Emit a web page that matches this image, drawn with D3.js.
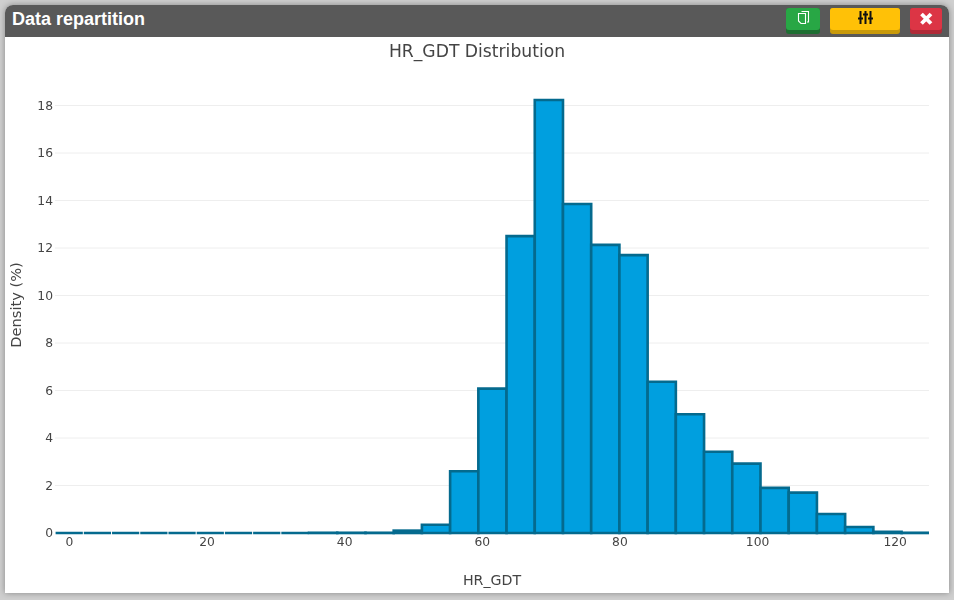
<!DOCTYPE html>
<html>
<head>
<meta charset="utf-8">
<script src="https://cdn.jsdelivr.net/npm/d3@7"></script>
<style>
html, body { margin: 0; padding: 0; width: 954px; height: 600px; overflow: hidden; background: #cfcfcf; }
#panel { position: absolute; left: 5px; top: 5px; width: 944px; height: 588px; background: #fff;
  border-radius: 8px 8px 0 0; box-shadow: 0 0 6px rgba(0,0,0,.35); overflow: hidden; }
#head { height: 32px; background: #595959; color: #fff; font: bold 18px "Liberation Sans", Arial, sans-serif;
  line-height: 29px; padding-left: 7px; opacity: 0.999; }
</style>
</head>
<body>
<div id="panel">
  <div id="head">Data repartition</div>
</div>
<svg id="chart" width="954" height="600" style="position:absolute;left:0;top:0"></svg>
<script>
var chartTitle = "HR_GDT Distribution";
var xTitle = "HR_GDT";
var yTitle = "Density (%)";

// bin edges start at -2, each bin is 4.1 wide
var binStart = -2;
var binSize = 4.1;
var density = [0, 0, 0, 0, 0, 0, 0, 0, 0, 0.01, 0.01, 0.01,
  0.1, 0.35, 2.6, 6.08, 12.5, 18.23, 13.85, 12.13, 11.7, 6.37, 5.0, 3.42, 2.92, 1.9, 1.7, 0.8, 0.25, 0.05, 0.01];

var xTicks = [0, 20, 40, 60, 80, 100, 120];
var yTicks = [0, 2, 4, 6, 8, 10, 12, 14, 16, 18];

var svg = d3.select("#chart");
var fontName = '"DejaVu Sans", Verdana, sans-serif';
var textColor = "#444";

var x = d3.scaleLinear().domain([-2, 125]).range([55.1, 929.1]);
var y = d3.scaleLinear().domain([0, 18]).range([533, 105.5]);

// header buttons
var buttons = [
  { x: 786, w: 34, c: "#28a745", b: "#1e6f32" },
  { x: 830, w: 70, c: "#ffc107", b: "#c99a0a" },
  { x: 910, w: 32, c: "#dc3545", b: "#b02a37" }
];
var btn = svg.selectAll("g.btn").data(buttons).enter().append("g").attr("class", "btn");
btn.append("rect")
  .attr("x", function (d) { return d.x; }).attr("y", 8)
  .attr("width", function (d) { return d.w; }).attr("height", 26).attr("rx", 3)
  .attr("fill", function (d) { return d.b; });
btn.append("rect")
  .attr("x", function (d) { return d.x; }).attr("y", 8)
  .attr("width", function (d) { return d.w; }).attr("height", 22).attr("rx", 3)
  .attr("fill", function (d) { return d.c; });

// copy icon
svg.append("path").attr("d", "M801.5 11.5h7v10.5h-1.5M798.5 13.5h7v10h-4.5l-2.5-2.5z")
  .attr("fill", "none").attr("stroke", "#fff").attr("stroke-width", 1.1);
// sliders icon
svg.append("path").attr("d", "M860.5 11v13M865.5 11v13M870.5 11v13M858 18.5h5M863 14.5h5M868 18.5h5")
  .attr("fill", "none").attr("stroke", "#111").attr("stroke-width", 2);
// close icon
svg.append("path").attr("d", "M921.5 14l9.5 9.5M931 14l-9.5 9.5")
  .attr("fill", "none").attr("stroke", "#fff").attr("stroke-width", 3.8);

// grid
svg.append("g").selectAll("line").data(yTicks.slice(1)).enter().append("line")
  .attr("x1", 55).attr("x2", 929)
  .attr("y1", function (d) { return y(d); }).attr("y2", function (d) { return y(d); })
  .attr("stroke", "#eee").attr("stroke-width", 1);

svg.append("clipPath").attr("id", "plot").append("rect")
  .attr("x", 55).attr("y", 60).attr("width", 874).attr("height", 480);

// bars, zero bins keep a small gap between them
svg.append("g").attr("clip-path", "url(#plot)").selectAll("path").data(density).enter().append("path")
  .attr("d", function (d, i) {
    var inset = d === 0 ? 0.5 : 0;
    var x0 = x(binStart + i * binSize) + inset, x1 = x(binStart + (i + 1) * binSize) - inset;
    return "M" + x0 + "," + y(0) + "V" + y(d) + "H" + x1 + "V" + y(0) + "Z";
  })
  .attr("fill", "#009fdf")
  .attr("stroke", "#046a8e")
  .attr("stroke-width", 2.6)
  .attr("stroke-linejoin", function (d) { return d === 0 ? "bevel" : "miter"; });

// axes, text only
var axes = svg.append("g").style("opacity", 0.999);
var xAxis = axes.append("g").attr("transform", "translate(0,533)")
  .call(d3.axisBottom(x).tickValues(xTicks).tickSize(0).tickPadding(4));
var yAxis = axes.append("g").attr("transform", "translate(55,0)")
  .call(d3.axisLeft(y).tickValues(yTicks).tickSize(0).tickPadding(2));
xAxis.select(".domain").remove();
yAxis.select(".domain").remove();
axes.selectAll(".tick text").style("font-family", fontName).style("font-size", "12.3px").attr("fill", textColor);

axes.append("text").attr("x", 477).attr("y", 57).attr("text-anchor", "middle")
  .style("font-family", fontName).style("font-size", "17.2px").attr("fill", textColor).text(chartTitle);
axes.append("text").attr("x", 492).attr("y", 585).attr("text-anchor", "middle")
  .style("font-family", fontName).style("font-size", "14.2px").attr("fill", textColor).text(xTitle);
axes.append("text").attr("transform", "translate(21,305) rotate(-90)").attr("text-anchor", "middle")
  .style("font-family", fontName).style("font-size", "14.6px").attr("fill", textColor).text(yTitle);
</script>
</body>
</html>
